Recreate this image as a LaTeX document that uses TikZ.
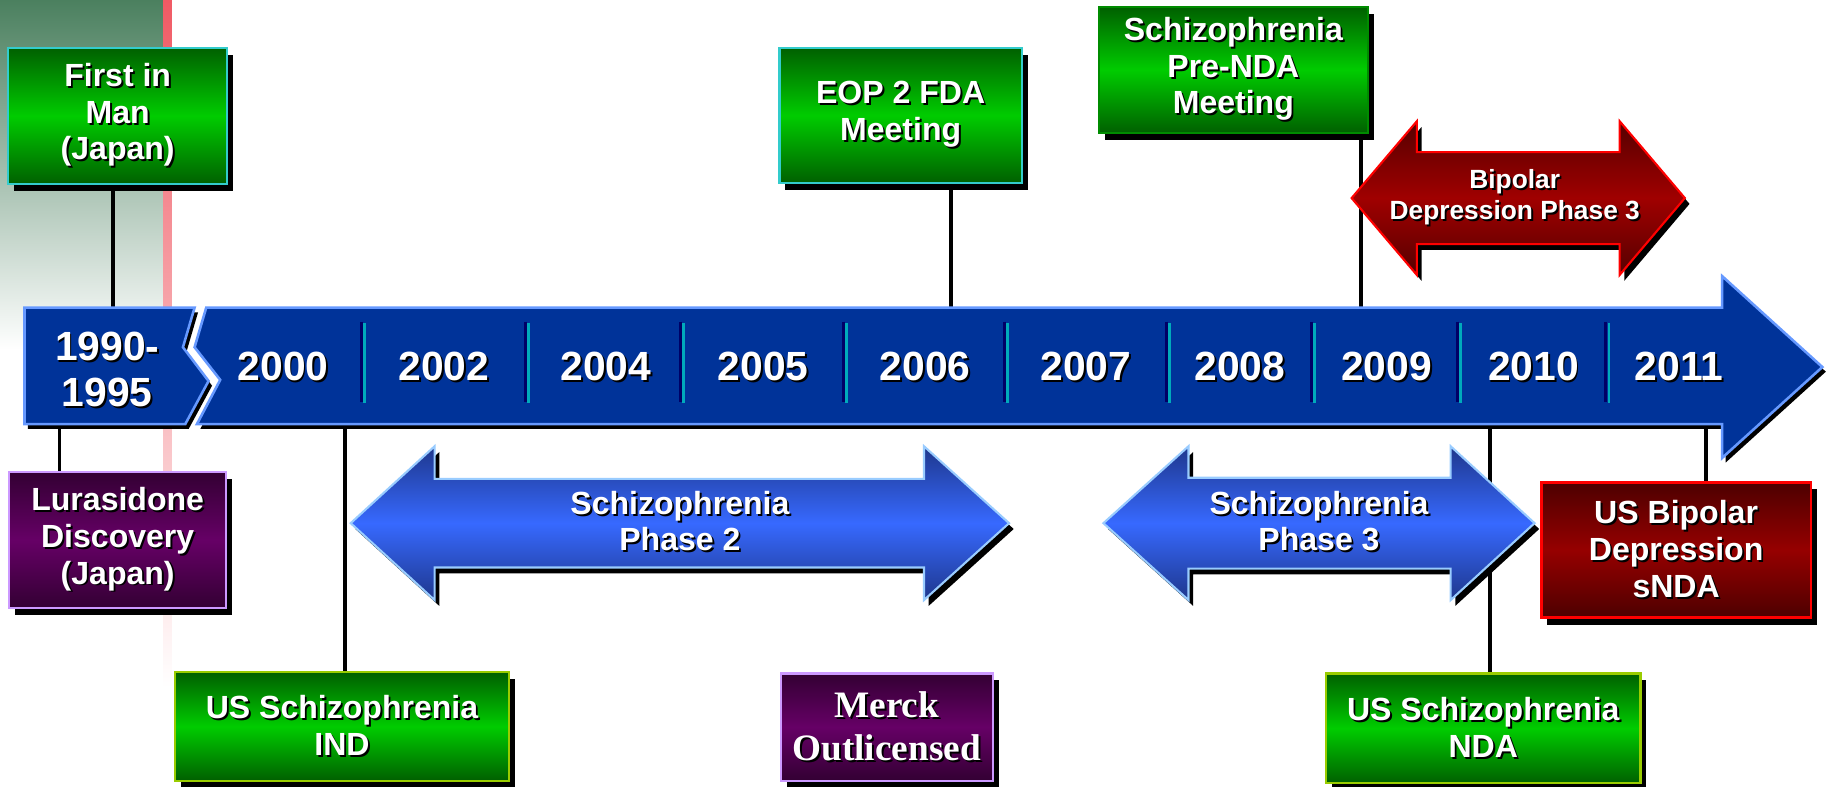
\documentclass[tikz,border=0pt]{standalone}
\usepackage{fontspec}
\setmainfont{Liberation Sans}
\newfontfamily\serifbf{Liberation Serif}
\usetikzlibrary{shadows}
\definecolor{panelg}{RGB}{75,128,95}
\definecolor{redline}{RGB}{240,90,100}
\definecolor{ablue}{RGB}{0,51,153}
\definecolor{aedge}{RGB}{102,153,255}
\definecolor{navyl}{RGB}{0,0,102}
\definecolor{cyanl}{RGB}{0,170,187}
\definecolor{gdark}{RGB}{0,96,0}
\definecolor{gmid}{RGB}{0,204,0}
\definecolor{cyanedge}{RGB}{51,204,204}
\definecolor{ygedge}{RGB}{153,204,0}
\definecolor{dgedge}{RGB}{0,140,0}
\definecolor{pdark}{RGB}{51,0,51}
\definecolor{pmid}{RGB}{102,0,102}
\definecolor{pedge}{RGB}{204,153,255}
\definecolor{rdark}{RGB}{77,0,0}
\definecolor{rmid}{RGB}{150,0,0}
\definecolor{redge}{RGB}{255,0,0}
\definecolor{bdark}{RGB}{30,55,140}
\definecolor{bmid}{RGB}{55,105,255}
\definecolor{bedge}{RGB}{153,204,255}
\definecolor{radark}{RGB}{85,0,0}
\definecolor{ramid}{RGB}{160,0,0}
\newcommand\boxfont{\fontsize{27.5pt}{31.5pt}\selectfont\bfseries}
\newcommand\yearfont{\fontsize{35pt}{40pt}\selectfont\bfseries}
\newcommand\smallafont{\fontsize{22.6pt}{27pt}\selectfont\bfseries}
\newcommand\merckfont{\serifbf\fontsize{32pt}{37pt}\selectfont\bfseries}
\newcommand\tsh[1]{\makebox[0pt][l]{\hspace{1.6pt}\raisebox{-1.6pt}{\color{black}#1}}#1}
\newcommand\dblarrow[8]{%
  \draw[#1] (#2,#6) -- (#3,#6-#7) -- (#3,#6-#8) -- (#4,#6-#8) -- (#4,#6-#7) -- (#5,#6)
    -- (#4,#6+#7) -- (#4,#6+#8) -- (#3,#6+#8) -- (#3,#6+#7) -- cycle;}
\pgfdeclarelayer{back}
\pgfdeclarelayer{mid}
\pgfsetlayers{back,mid,main}
\begin{document}
\begin{tikzpicture}[x=1pt,y=-1pt,
  shad/.style={drop shadow={shadow xshift=#1, shadow yshift=-#1-1pt, opacity=1, fill=black}},
  boxbase/.style={draw, line width=2pt, inner sep=0pt, align=center, text=white, font=\boxfont, shad=5pt},
  gbox/.style={boxbase, top color=gdark, bottom color=gdark, middle color=gmid},
  pbox/.style={boxbase, top color=pdark, bottom color=pdark, middle color=pmid, draw=pedge},
  rbox/.style={boxbase, top color=rdark, bottom color=rdark, middle color=rmid, draw=redge},
  conn/.style={line width=3.2pt, black},
  yr/.style={text=white, font=\yearfont, inner sep=0pt, align=center},
  atext/.style={text=white, font=\boxfont, align=center, inner sep=0pt},
  mainarrow/.style={line width=2.2pt, draw=aedge, fill=ablue, shad=3pt},
  barrow/.style={line width=1.8pt, draw=bedge, top color=bdark, bottom color=bdark, middle color=bmid, shad=4pt},
  rarrow/.style={line width=1.8pt, draw=redge, top color=radark, bottom color=radark, middle color=ramid, shad=4pt}
]
\useasboundingbox (0,0) rectangle (1568,675);
% background
\begin{pgfonlayer}{back}
\fill[white] (0,0) rectangle (1568,675);
\shade[top color=panelg, bottom color=white] (0,0) rectangle (140,300);
\shade[top color=redline, bottom color=white] (140,0) rectangle (147.5,590);
\end{pgfonlayer}

% main timeline arrow
\draw[mainarrow] (21,264) -- (167,264) -- (157,298) -- (179,327) -- (159,364) -- (21,364) -- cycle;
\draw[mainarrow] (177,264) -- (1478,264) -- (1478,237) -- (1564,315) -- (1478,393)
  -- (1478,364) -- (169,364) -- (189,326) -- (167,298) -- cycle;
\foreach \s in {311.6,452.4,585.4,725.3,863.5,1002.6,1127,1252.3,1379.4} {
  \draw[navyl, line width=2.4pt] (\s-1.3,276) -- (\s-1.3,345);
  \draw[cyanl, line width=2pt] (\s+1.2,277) -- (\s+1.2,346);
}
\node[yr] (y90) at (92,318) {\tsh{1990-}\\\tsh{1995}};
\node[yr] (y00) at (243,315) {\tsh{2000}};
\node[yr] (y02) at (381,315) {\tsh{2002}};
\node[yr] (y04) at (520,315) {\tsh{2004}};
\node[yr] (y05) at (655,315) {\tsh{2005}};
\node[yr] (y06) at (794,315) {\tsh{2006}};
\node[yr] (y07) at (932,315) {\tsh{2007}};
\node[yr] (y08) at (1064,315) {\tsh{2008}};
\node[yr] (y09) at (1190,315) {\tsh{2009}};
\node[yr] (y10) at (1316,315) {\tsh{2010}};
\node[yr] (y11) at (1441,315) {\tsh{2011}};

% attachment points on the timeline
\coordinate (c1) at (97,264);
\coordinate (c2) at (51,364);
\coordinate (c3) at (296,364);
\coordinate (c4) at (816,264);
\coordinate (c5) at (1168,264);
\coordinate (c6) at (1279,364);
\coordinate (c7) at (1464,364);

% phase arrows
\dblarrow{barrow}{301}{373}{793}{866}{449}{66}{38}
\node[atext] (p2) at (583.5,448) {\tsh{Schizophrenia}\\\tsh{Phase 2}};
\dblarrow{barrow}{947}{1020}{1245}{1317}{449}{66}{39}
\node[atext] (p3) at (1132,448) {\tsh{Schizophrenia}\\\tsh{Phase 3}};
\dblarrow{rarrow}{1160}{1216}{1390}{1446}{170}{66}{39.5}
\node[atext, font=\smallafont] (bp3) at (1300,170) {\tsh{Bipolar}\\\tsh{Depression Phase 3}};

% milestone boxes
\node[gbox, draw=cyanedge, minimum width=188pt, minimum height=117pt] (fim) at (101,99.5)
  {\tsh{First in}\\\tsh{Man}\\\tsh{(Japan)}};
\node[pbox, minimum width=186pt, minimum height=117pt] (lur) at (101,463.5)
  {\tsh{Lurasidone}\\\tsh{Discovery}\\\tsh{(Japan)}};
\node[gbox, draw=ygedge, minimum width=287pt, minimum height=93pt] (ind) at (293.5,623.5)
  {\tsh{US Schizophrenia}\\\tsh{IND}};
\node[pbox, font=\merckfont, minimum width=182pt, minimum height=92pt] (mer) at (761,624)
  {\tsh{Merck}\\\tsh{Outlicensed}};
\node[gbox, draw=cyanedge, minimum width=208pt, minimum height=116pt] (eop) at (773,99)
  {\tsh{EOP 2 FDA}\\\tsh{Meeting}};
\node[gbox, draw=dgedge, minimum width=231pt, minimum height=108pt] (pre) at (1058.5,60)
  {\tsh{Schizophrenia}\\\tsh{Pre-NDA}\\\tsh{Meeting}};
\node[gbox, draw=ygedge, minimum width=270pt, minimum height=94pt] (nda) at (1273,625)
  {\tsh{US Schizophrenia}\\\tsh{NDA}};
\node[rbox, minimum width=231pt, minimum height=116pt] (snda) at (1438.5,472)
  {\tsh{US Bipolar}\\\tsh{Depression}\\\tsh{sNDA}};

% connectors (behind everything else)
\begin{pgfonlayer}{mid}
\draw[conn] (fim.south -| c1) -- (c1);
\draw[conn] (c2) -- (c2 |- lur.north);
\draw[conn] (c3) -- (c3 |- ind.north);
\draw[conn] (eop.south -| c4) -- (c4);
\draw[conn] (pre.south -| c5) -- (c5);
\draw[conn] (c6) -- (c6 |- nda.north);
\draw[conn] (c7) -- (c7 |- snda.north);
\end{pgfonlayer}
\end{tikzpicture}
\end{document}
